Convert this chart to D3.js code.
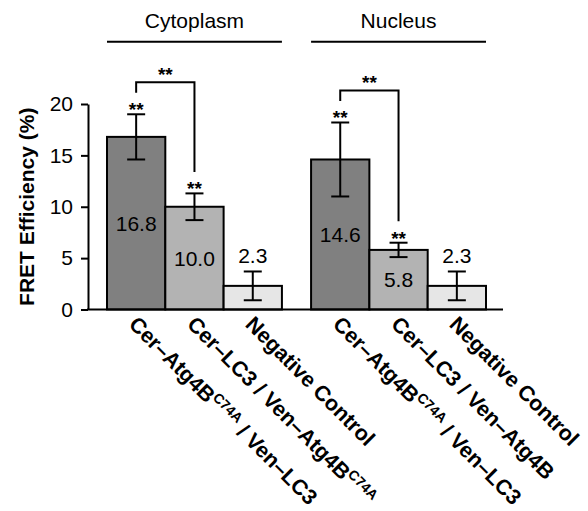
<!DOCTYPE html>
<html lang="en">
  <head>
    <meta charset="UTF-8" />
    <title>FRET efficiency</title>
    <style type="text/css">
      html,
      body {
        margin: 0;
        padding: 0;
        background: #fff;
        font-family: "Liberation Sans", Arial, sans-serif;
      }
      svg text {
        fill: #000;
      }
    </style>
  </head>
  <body>
    <svg id="chart"></svg>

    <script src="https://cdn.jsdelivr.net/npm/d3@7"></script>
    <script>
      // === Data === //

      var groups = ["Cytoplasm", "Nucleus"];
      var barGroup = [0, 0, 0, 1, 1, 1];
      var barKind = [0, 1, 2, 0, 1, 2];
      var values = [16.8, 10.0, 2.3, 14.6, 5.8, 2.3];
      var errors = [2.2, 1.3, 1.4, 3.6, 0.7, 1.4];
      var valueLabels = ["16.8", "10.0", "2.3", "14.6", "5.8", "2.3"];
      var starred = [true, true, false, true, true, false];
      var brackets = [[0, 1], [3, 4]];
      var yTicks = [0, 5, 10, 15, 20];
      var fills = ["#808080", "#b3b3b3", "#e6e6e6"];

      // category labels: [main text, superscript, tail]
      var catLabels = [
        ["Cer\u2013Atg4B", "C74A", " / Ven\u2013LC3"],
        ["Cer\u2013LC3 / Ven\u2013Atg4B", "C74A", ""],
        ["Negative Control", "", ""],
        ["Cer\u2013Atg4B", "C74A", " / Ven\u2013LC3"],
        ["Cer\u2013LC3 / Ven\u2013Atg4B", "", ""],
        ["Negative Control", "", ""]
      ];

      // === Layout === //

      var width = 588,
        height = 511;
      var axisX = 88,
        baseY = 309.5;
      var groupGap = 0.5;
      var fs = 21;

      var svg = d3
        .select("#chart")
        .attr("width", width)
        .attr("height", height);

      function slot(i) {
        return barGroup[i] * (3 + groupGap) + barKind[i];
      }

      var x = d3.scaleLinear().domain([0, 6.5]).range([107, 486]);
      var y = d3.scaleLinear().domain([0, 20]).range([baseY, 104]);

      var idx = d3.range(values.length);

      // === Y axis === //

      var yAxis = d3
        .axisLeft(y)
        .tickValues(yTicks)
        .tickSize(7)
        .tickSizeOuter(0)
        .tickPadding(8);

      var gy = svg
        .append("g")
        .attr("transform", "translate(" + axisX + ",0)")
        .call(yAxis);

      gy.selectAll("path, line")
        .attr("stroke", "#000")
        .attr("stroke-width", 2);
      gy.selectAll("text")
        .attr("font-family", "'Liberation Sans', Arial, sans-serif")
        .attr("font-size", fs)
        .attr("fill", "#000");

      svg
        .append("text")
        .attr("transform", "translate(34," + (baseY + 104) / 2 + ") rotate(-90)")
        .attr("text-anchor", "middle")
        .attr("font-size", fs)
        .attr("font-weight", "bold")
        .text("FRET Efficiency (%)");

      // === Bars === //

      svg
        .selectAll("rect.bar")
        .data(idx)
        .enter()
        .append("rect")
        .attr("class", "bar")
        .attr("x", function(i) {
          return x(slot(i));
        })
        .attr("y", function(i) {
          return y(values[i]);
        })
        .attr("width", function(i) {
          return x(slot(i) + 1) - x(slot(i));
        })
        .attr("height", function(i) {
          return baseY - y(values[i]);
        })
        .attr("fill", function(i) {
          return fills[barKind[i]];
        })
        .attr("stroke", "#000")
        .attr("stroke-width", 2);

      // baseline
      svg
        .append("line")
        .attr("x1", axisX - 1)
        .attr("x2", 503)
        .attr("y1", baseY)
        .attr("y2", baseY)
        .attr("stroke", "#000")
        .attr("stroke-width", 2);

      // === Error bars === //

      function cx(i) {
        return x(slot(i) + 0.5);
      }

      var err = svg.append("g").attr("stroke", "#000").attr("stroke-width", 2);

      idx.forEach(function(i) {
        var hi = y(values[i] + errors[i]),
          lo = y(values[i] - errors[i]);
        err.append("line").attr("x1", cx(i)).attr("x2", cx(i)).attr("y1", hi).attr("y2", lo);
        err.append("line").attr("x1", cx(i) - 9).attr("x2", cx(i) + 9).attr("y1", hi).attr("y2", hi);
        err.append("line").attr("x1", cx(i) - 9).attr("x2", cx(i) + 9).attr("y1", lo).attr("y2", lo);
      });

      // === Value labels === //

      svg
        .selectAll("text.val")
        .data(idx)
        .enter()
        .append("text")
        .attr("class", "val")
        .attr("x", cx)
        .attr("y", function(i) {
          if (values[i] < 5) return y(values[i] + errors[i]) - 8;
          return (y(values[i]) + baseY) / 2 + 7.5;
        })
        .attr("text-anchor", "middle")
        .attr("font-size", fs)
        .text(function(i) {
          return valueLabels[i];
        });

      // === Significance === //

      function starY(i) {
        return y(values[i] + errors[i]) - 9;
      }

      function stars(px, py) {
        svg
          .append("text")
          .attr("x", px)
          .attr("y", py + 11)
          .attr("text-anchor", "middle")
          .attr("font-size", 19)
          .attr("font-weight", "bold")
          .text("**");
      }

      idx.forEach(function(i) {
        if (starred[i]) stars(cx(i), starY(i));
      });

      brackets.forEach(function(b) {
        var a = b[0],
          c = b[1];
        var legA = starY(a) - 12.5,
          legC = starY(c) - 12.5,
          top = legA - 10.5;
        svg
          .append("path")
          .attr(
            "d",
            "M" + cx(a) + "," + legA + "V" + top + "H" + cx(c) + "V" + legC
          )
          .attr("fill", "none")
          .attr("stroke", "#000")
          .attr("stroke-width", 2);
        stars((cx(a) + cx(c)) / 2, top - 12.5);
      });

      // === Group headers === //

      groups.forEach(function(g, gi) {
        var x0 = x(gi * (3 + groupGap)),
          x1 = x(gi * (3 + groupGap) + 3);
        svg
          .append("line")
          .attr("x1", x0)
          .attr("x2", x1)
          .attr("y1", 41.7)
          .attr("y2", 41.7)
          .attr("stroke", "#000")
          .attr("stroke-width", 2);
        svg
          .append("text")
          .attr("x", (x0 + x1) / 2)
          .attr("y", 27.5)
          .attr("text-anchor", "middle")
          .attr("font-size", fs)
          .text(g);
      });

      // === Category labels === //

      idx.forEach(function(i) {
        var l = catLabels[i];
        var t = svg
          .append("text")
          .attr(
            "transform",
            "translate(" + (cx(i) - 8.5) + "," + (baseY + 16) + ") rotate(45)"
          )
          .attr("font-size", 21.5)
          .attr("font-weight", "bold");
        t.append("tspan").text(l[0]);
        if (l[1]) {
          t.append("tspan")
            .attr("font-size", 14)
            .attr("dy", -8)
            .text(l[1]);
        }
        if (l[2]) {
          t.append("tspan")
            .attr("dy", l[1] ? 8 : 0)
            .text(l[2]);
        }
      });
    </script>
  </body>
</html>
